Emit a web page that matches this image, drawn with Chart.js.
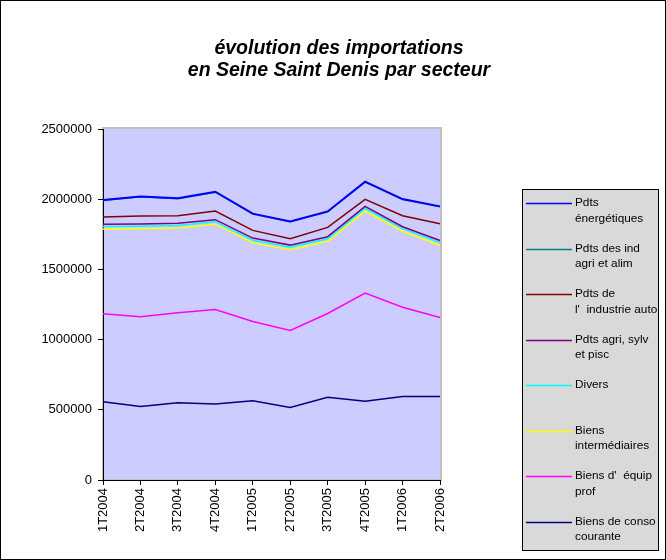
<!DOCTYPE html>
<html>
<head>
<meta charset="utf-8">
<script src="https://cdn.jsdelivr.net/npm/chart.js@4/dist/chart.umd.min.js"></script>
<style>
  html, body { margin: 0; padding: 0; background: #fff; }
</style>
</head>
<body>
<canvas id="chart" width="666" height="560"></canvas>
<script>
// trimestres
const quarters = ["1T2004", "2T2004", "3T2004", "4T2004", "1T2005", "2T2005", "3T2005", "4T2005", "1T2006", "2T2006"];

const seriesNames = [
  "Pdts\nénergétiques",
  "Pdts des ind\nagri et alim",
  "Pdts de\nl'  industrie auto",
  "Pdts agri, sylv\net pisc",
  "Divers",
  "Biens\nintermédiaires",
  "Biens d'  équip\nprof",
  "Biens de conso\ncourante"
];
const seriesColors = ["#0000FF", "#008080", "#800000", "#800080", "#00FFFF", "#FFFF00", "#FF00FF", "#000080"];

// valeurs (courbes cumulées)
const energetiques = [1994000, 2020000, 2006000, 2053000, 1897000, 1842000, 1913000, 2125000, 2001000, 1949000];
const agriAlim     = [1991000, 2017000, 2003000, 2050000, 1894000, 1839000, 1910000, 2122000, 1998000, 1946000];
const industrieAuto = [1873000, 1880000, 1882000, 1916000, 1778000, 1718000, 1799000, 1999000, 1882000, 1825000];
const agriSylv     = [1821000, 1823000, 1828000, 1854000, 1723000, 1673000, 1733000, 1949000, 1804000, 1706000];
const divers       = [1806000, 1808000, 1812000, 1840000, 1708000, 1658000, 1718000, 1934000, 1790000, 1692000];
const intermediaires = [1788000, 1790000, 1795000, 1822000, 1690000, 1640000, 1700000, 1916000, 1772000, 1672000];
const equipProf    = [1184000, 1162000, 1191000, 1214000, 1129000, 1065000, 1186000, 1331000, 1231000, 1157000];
const consoCourante = [558000, 523000, 551000, 542000, 565000, 516000, 590000, 561000, 594000, 594000];

const yTicks = [0, 500000, 1000000, 1500000, 2000000, 2500000];

const allValues = [energetiques, agriAlim, industrieAuto, agriSylv, divers, intermediaires, equipProf, consoCourante];

const FONT = '"Liberation Sans", Arial, sans-serif';

const datasets = allValues.map((vals, i) => ({
  label: seriesNames[i],
  data: vals,
  borderColor: seriesColors[i],
  backgroundColor: seriesColors[i],
  borderWidth: i === 0 ? 2 : 1.5,
  pointRadius: 0,
  fill: false,
  tension: 0
}));

const excelLook = {
  id: "excelLook",
  beforeDraw(chart) {
    const ctx = chart.ctx;
    const a = chart.chartArea;
    ctx.save();
    ctx.fillStyle = "#fff";
    ctx.fillRect(0, 0, chart.width, chart.height);
    ctx.fillStyle = "#CCCCFF";
    ctx.fillRect(a.left, a.top, a.right - a.left, a.bottom - a.top);
    ctx.strokeStyle = "#c0c0c0";
    ctx.lineWidth = 2;
    ctx.strokeRect(a.left, a.top - 1, a.right - a.left + 1, a.bottom - a.top + 1);
    ctx.restore();
  },
  afterDraw(chart) {
    const ctx = chart.ctx;
    ctx.save();
    // cadre
    ctx.strokeStyle = "#000";
    ctx.lineWidth = 1;
    ctx.strokeRect(0.5, 0.5, chart.width - 1, chart.height - 1);

    // titre
    ctx.fillStyle = "#000";
    ctx.font = "italic bold 19.5px " + FONT;
    ctx.textAlign = "center";
    ctx.textBaseline = "middle";
    ctx.fillText("évolution des importations", 339, 49);
    ctx.fillText("en Seine Saint Denis par secteur", 339, 71);

    // légende
    const bx = 522, by = 189, bw = 136, bh = 361;
    ctx.fillStyle = "#d9d9d9";
    ctx.fillRect(bx, by, bw, bh);
    ctx.strokeStyle = "#000";
    ctx.strokeRect(bx + 0.5, by + 0.5, bw, bh);
    ctx.font = "11.8px " + FONT;
    ctx.textAlign = "left";
    chart.data.datasets.forEach((ds, i) => {
      const y = 203 + i * 45.5;
      ctx.strokeStyle = ds.borderColor;
      ctx.lineWidth = 1.5;
      ctx.beginPath();
      ctx.moveTo(526, Math.round(y) + 0.5);
      ctx.lineTo(572, Math.round(y) + 0.5);
      ctx.stroke();
      ctx.fillStyle = "#000";
      ds.label.split("\n").forEach((line, k) => {
        ctx.fillText(line, 575, y + k * 15.5);
      });
    });
    ctx.restore();
  }
};

new Chart(document.getElementById("chart"), {
  type: "line",
  data: { labels: quarters, datasets: datasets },
  plugins: [excelLook],
  options: {
    responsive: false,
    animation: false,
    devicePixelRatio: 1,
    layout: { padding: { left: 0, top: 129, right: 226, bottom: 0 } },
    plugins: {
      legend: { display: false },
      tooltip: { enabled: false },
      title: { display: false }
    },
    scales: {
      x: {
        offset: false,
        grid: { display: true, drawOnChartArea: false, drawTicks: true, tickLength: 5, color: "#000" },
        border: { display: true, color: "#000", width: 1 },
        ticks: {
          autoSkip: false, maxRotation: 90, minRotation: 90,
          color: "#000", font: { family: FONT, size: 13 }, padding: 3
        },
        afterFit(scale) {
          scale.height = 80;
          scale.paddingLeft = 0;
          scale.paddingRight = 0;
        }
      },
      y: {
        min: 0,
        max: 2500000,
        afterBuildTicks(scale) {
          scale.ticks = yTicks.map(v => ({ value: v }));
        },
        grid: { display: true, drawOnChartArea: false, drawTicks: true, tickLength: 5, color: "#000" },
        border: { display: true, color: "#000", width: 1 },
        ticks: {
          color: "#000", font: { family: FONT, size: 13 }, padding: 6,
          callback: v => String(v)
        },
        afterFit(scale) {
          scale.width = 103;
          scale.paddingTop = 0;
          scale.paddingBottom = 0;
        }
      }
    }
  }
});
</script>
</body>
</html>
